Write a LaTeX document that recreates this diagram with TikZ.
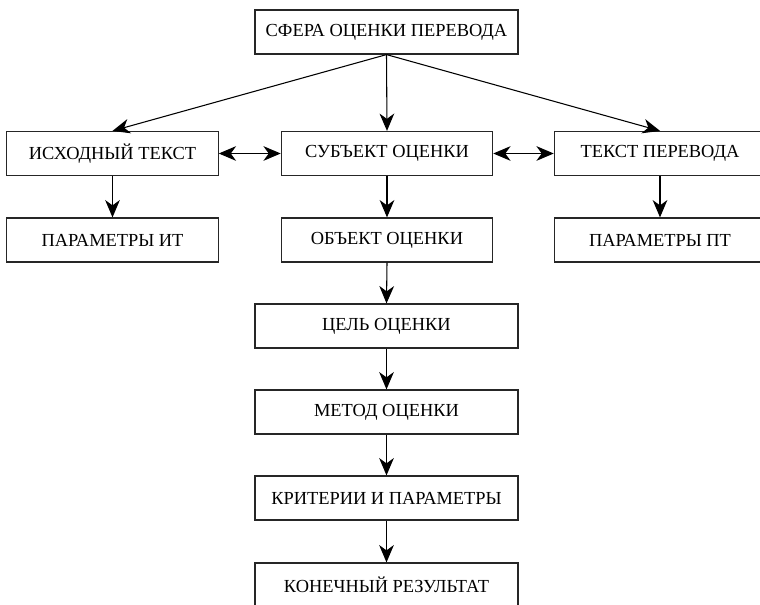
\documentclass[tikz,border=0pt]{standalone}
\usepackage{fontspec}
\setmainfont{Liberation Serif}
\usetikzlibrary{arrows.meta}
\begin{document}
\begin{tikzpicture}[x=0.75pt,y=-0.75pt,
  box/.style={draw=black!85, line width=0.9pt, rectangle, inner sep=0pt, minimum height=33pt, font=\fontsize{13.8}{16}\selectfont},
  wide/.style={box, minimum width=197.25pt},
  narrow/.style={box, minimum width=158.5pt},
  tip/.tip={Stealth[length=13pt,width=11pt,inset=4pt]},
  arr/.style={line width=0.8pt, -tip},
  darr/.style={line width=0.8pt, tip-tip}]
\useasboundingbox (0,0) rectangle (760,605);
\clip (0,0) rectangle (760,605);
\node[wide] (top) at (386.5,32) {СФЕРА ОЦЕНКИ ПЕРЕВОДА};
\node[narrow] (l2) at (112.5,153.5) {ИСХОДНЫЙ ТЕКСТ};
\node[narrow] (c2) at (387,153.5) {СУБЪЕКТ ОЦЕНКИ};
\node[narrow] (r2) at (660,153.5) {ТЕКСТ ПЕРЕВОДА};
\node[narrow] (l3) at (112.5,240) {ПАРАМЕТРЫ ИТ};
\node[narrow] (c3) at (387,240) {ОБЪЕКТ ОЦЕНКИ};
\node[narrow] (r3) at (660,240) {ПАРАМЕТРЫ ПТ};
\node[wide] (goal) at (386.5,326) {ЦЕЛЬ ОЦЕНКИ};
\node[wide] (method) at (386.5,412) {МЕТОД ОЦЕНКИ};
\node[wide] (crit) at (386.5,498) {КРИТЕРИИ И ПАРАМЕТРЫ};
\node[wide] (res) at (386.5,585) {КОНЕЧНЫЙ РЕЗУЛЬТАТ};
\draw[arr] (top.south) -- (l2.north);
\draw[arr] (top.south) -- (c2.north);
\draw[arr] (top.south) -- (r2.north);
\draw[darr] (l2.east) -- (c2.west);
\draw[darr] (c2.east) -- (r2.west);
\draw[arr] (l2.south) -- (l3.north);
\draw[arr] (c2.south) -- (c3.north);
\draw[arr] (r2.south) -- (r3.north);
\draw[arr] (c3.south) -- (goal.north);
\draw[arr] (goal.south) -- (method.north);
\draw[arr] (method.south) -- (crit.north);
\draw[arr] (crit.south) -- (res.north);
\end{tikzpicture}
\end{document}
